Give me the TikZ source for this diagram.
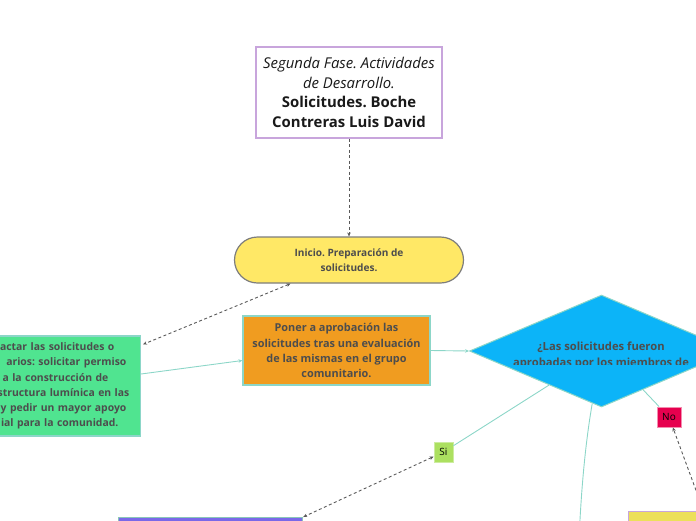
\documentclass[tikz,border=0pt]{standalone}
\usepackage{fontspec}
\setmainfont{Open Sans}
\usetikzlibrary{calc, shapes.geometric, arrows.meta}
\definecolor{TituloBorde}{RGB}{200, 165, 220}
\definecolor{InicioAmarillo}{RGB}{255, 232, 102}
\definecolor{BordeGris}{RGB}{125, 125, 125}
\definecolor{VerdeMenta}{RGB}{80, 228, 144}
\definecolor{Naranja}{RGB}{240, 156, 32}
\definecolor{Celeste}{RGB}{12, 180, 248}
\definecolor{LineaTeal}{RGB}{140, 214, 200}
\definecolor{VerdeLima}{RGB}{172, 224, 96}
\definecolor{Carmesi}{RGB}{230, 0, 78}
\definecolor{Lavanda}{RGB}{122, 104, 232}
\definecolor{AmarilloB}{RGB}{236, 224, 90}
\definecolor{TextoGris}{RGB}{77, 77, 77}

\begin{document}
\frenchspacing
\begin{tikzpicture}[x=1pt, y=-1pt,
    caja/.style={draw=LineaTeal, line width=1.2pt, inner sep=0pt, align=center,
        text=TextoGris, font=\fontsize{10.9}{15.2}\selectfont\bfseries},
    etiqueta/.style={line width=0.8pt, inner sep=0pt, minimum height=20pt,
        text=black, font=\fontsize{10}{12}\selectfont},
    enlace/.style={LineaTeal, line width=0.9pt},
    punteado/.style={draw=black!65, line width=0.9pt, dash pattern=on 3pt off 2.5pt},
    punta/.style={-{Stealth[length=4pt, width=3.5pt]}},
    dobles/.style={{Stealth[length=4pt, width=3.5pt]}-{Stealth[length=4pt, width=3.5pt]}}
    ]
    \useasboundingbox (0,0) rectangle (696,520);

    % Titulo
    \node[draw=TituloBorde, line width=1.3pt, fill=white, minimum width=186pt,
        minimum height=91pt, align=center, text=black!90,
        font=\fontsize{14.9}{19.4}\selectfont] (titulo) at (349,92.5)
        {\textit{Segunda Fase. Actividades}\\\textit{de Desarrollo.}\\
         \textbf{Solicitudes. Boche}\\\textbf{Contreras Luis David}};

    % Inicio
    \node[draw=BordeGris, fill=InicioAmarillo, line width=1.2pt, rounded corners=23pt,
        minimum width=229pt, minimum height=46pt, align=center, text=TextoGris,
        font=\fontsize{10.1}{15}\selectfont\bfseries] (inicio) at (349,260)
        {Inicio. Preparación de\\solicitudes.};

    % Redactar (cortado a la izquierda)
    \node[caja, fill=VerdeMenta, text width=220pt, align=right, inner xsep=11pt,
        minimum height=100pt, anchor=east, font=\fontsize{10.4}{15.2}\selectfont\bfseries]
        (redactar) at (141,386)
        {actar las solicitudes o\rule{15pt}{0pt}\\
         arios: solicitar permiso\rule{3pt}{0pt}\\
         a la construcción de\rule{21pt}{0pt}\\
         structura lumínica en las\\
         y pedir un mayor apoyo\rule{3pt}{0pt}\\
         ial para la comunidad.\rule{11pt}{0pt}};

    % Aprobacion
    \node[caja, fill=Naranja, minimum width=187pt, minimum height=69pt] (aprobacion)
        at (336.5,350.5)
        {Poner a aprobación las\\solicitudes tras una evaluación\\
         de las mismas en el grupo\\comunitario.};

    % Pregunta
    \node[diamond, draw=LineaTeal, fill=Celeste, line width=1pt, inner sep=0pt,
        minimum width=264pt, minimum height=112pt] (pregunta) at (601.5,351) {};
    \begin{scope}
        \clip (470,330) rectangle (734,364.5);
        \node[align=center, inner sep=0pt, text=TextoGris,
            font=\fontsize{11.2}{15.3}\selectfont\bfseries] (preguntatxt) at (601,355.5)
            {¿Las solicitudes fueron\\aprobadas por los miembros de};
    \end{scope}

    % Si / No
    \node[etiqueta, draw=VerdeLima!60!white, fill=VerdeLima, minimum width=19pt] (si)
        at (443.5,452) {Si};
    \node[etiqueta, draw=Carmesi!45!white, fill=Carmesi, minimum width=24pt] (no)
        at (669,417) {No};

    % Cajas de abajo
    \node[draw=LineaTeal!80!gray, fill=Lavanda, line width=1.2pt, minimum width=184pt,
        minimum height=40pt, anchor=north west] (azul) at (118,517) {};
    \node[draw=TituloBorde, fill=AmarilloB, line width=1.2pt, minimum width=150pt,
        minimum height=40pt, anchor=north west] (amarillo) at (628,511) {};
    \coordinate (abajo) at (579,540);

    % Conectores
    \draw[punteado, punta] (titulo.south) -- (inicio.north);
    \draw[punteado, dobles] (inicio.202) -- ($(redactar.north east)+(2,9)$);
    \draw[enlace, -{Stealth[length=4pt, width=3.5pt]}]
        ($(redactar.east)+(0,-12)$) -- ($(aprobacion.west)+(0,10)$);
    \draw[enlace, -{Stealth[length=4pt, width=3.5pt]}] (aprobacion.east) -- (pregunta.west);
    \draw[enlace] (pregunta.213) -- (si);
    \draw[enlace] (pregunta.-43) -- (no);
    \draw[enlace] (pregunta.260) .. controls (588,428) and (582,470) .. (abajo);
    \draw[punteado, dobles] (si) -- (azul.north east);
    \draw[punteado, punta] (amarillo.north) -- (no);
\end{tikzpicture}
\end{document}
